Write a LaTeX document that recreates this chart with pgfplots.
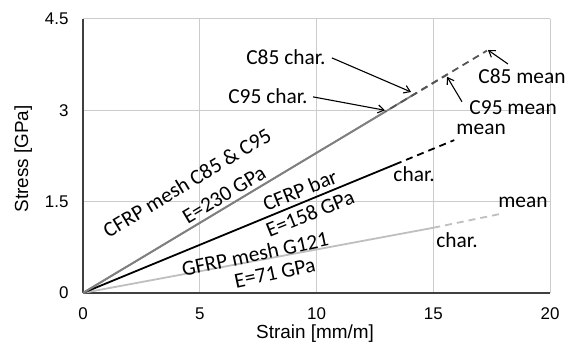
\documentclass[border=0pt]{standalone}
\usepackage{fontspec}
\setmainfont{Carlito}
\newfontfamily\arialf{Liberation Sans}
\usepackage{pgfplots}
\pgfplotsset{compat=1.18}
\usetikzlibrary{arrows.meta}
\definecolor{meshgray}{HTML}{808080}
\definecolor{meshdash}{HTML}{555555}
\definecolor{glight}{HTML}{BFBFBF}
\tikzset{
 txt/.style={font=\fontsize{21.5}{25}\selectfont, inner sep=0pt},
 arr/.style={-{Straight Barb[length=6bp,width=8bp]}, line width=1.1bp, black},
}
\begin{document}
\begin{tikzpicture}
\begin{axis}[
 scale only axis, width=467bp, height=274bp,
 xmin=0,xmax=20,ymin=0,ymax=4.5,
 xtick={0,5,10,15,20}, ytick={0,1.5,3,4.5},
 axis x line*=bottom, axis y line*=left,
 axis line style={black!75, line width=1.4bp},
 grid=major, major grid style={black!20, line width=0.9bp},
 major tick length=0pt,
 tick label style={font=\arialf\fontsize{17}{19}\selectfont},
 /pgf/number format/assume math mode=true,
 xticklabel style={yshift=-11bp},
 yticklabel style={xshift=-11bp},
 xlabel={Strain [mm/m]}, ylabel={Stress [GPa]},
 label style={font=\arialf\fontsize{19}{22}\selectfont},
 xlabel style={at={(axis description cs:0.497,-0.150)}, anchor=center},
 ylabel style={at={(axis description cs:-0.128,0.489)}, anchor=center},
 clip=false,
 every axis plot/.append style={line width=1.8bp},
]
% GFRP mesh G121
\addplot[glight] coordinates {(0,0) (15.0,1.07)};
\addplot[glight, dash pattern=on 7bp off 5bp] coordinates {(15.0,1.07) (17.9,1.30)};
% CFRP bar
\addplot[black] coordinates {(0,0) (13.36,2.11)};
\addplot[black, dash pattern=on 7bp off 5bp] coordinates {(13.36,2.11) (15.9,2.51)};
% CFRP mesh C85 and C95 (solid parts)
\addplot[meshgray] coordinates {(0,0) (14.05,3.2315)};
\addplot[meshgray] coordinates {(0,0) (12.95,2.9785)};
% C95 dashed (phase aligned with C85 dashes)
\addplot[meshdash, dash pattern=on 7bp off 5bp, dash phase=6.05bp] coordinates {(12.95,2.9785) (15.6,3.588)};
% C85 dashed
\addplot[meshdash, dash pattern=on 7bp off 5bp] coordinates {(14.05,3.2315) (17.3,3.979)};

\node[txt, rotate=31] at (axis cs:4.45,1.81) {CFRP mesh C85 \& C95};
\node[txt, rotate=31] at (axis cs:6.04,1.61) {E=230 GPa};
\node[txt, rotate=22] at (axis cs:9.29,1.69) {CFRP bar};
\node[txt, rotate=22] at (axis cs:9.72,1.30) {E=158 GPa};
\node[txt, rotate=12] at (axis cs:7.37,0.64) {GFRP mesh G121};
\node[txt, rotate=12] at (axis cs:8.22,0.33) {E=71 GPa};

\node[txt] at (axis cs:14.18,1.95) {char.};
\node[txt] at (axis cs:17.05,2.69) {mean};
\node[txt] at (axis cs:16.02,0.87) {char.};
\node[txt] at (axis cs:18.84,1.48) {mean};

\node[txt] at (axis cs:8.69,3.88) {C85 char.};
\draw[arr] (axis cs:10.66,3.86) -- (axis cs:14.05,3.30);
\node[txt] at (axis cs:7.92,3.23) {C95 char.};
\draw[arr] (axis cs:9.85,3.22) -- (axis cs:12.93,3.00);
\node[txt] at (axis cs:18.80,3.56) {C85 mean};
\draw[arr] (axis cs:18.2,3.76) -- (axis cs:17.34,3.99);
\node[txt] at (axis cs:18.42,3.05) {C95 mean};
\draw[arr] (axis cs:16.23,3.14) -- (axis cs:15.59,3.55);

\coordinate (bl) at (axis cs:-3.555,-0.887);
\coordinate (tr) at (axis cs:20.685,4.811);
\end{axis}
\pgfresetboundingbox
\path (bl) rectangle (tr);
\end{tikzpicture}
\end{document}
